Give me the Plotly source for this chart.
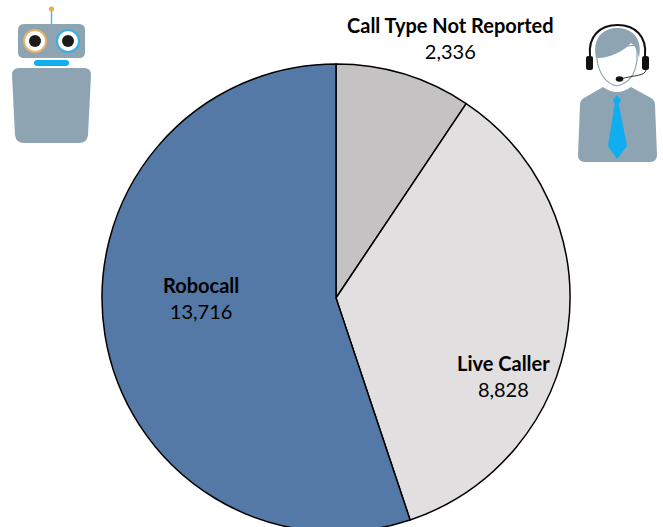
import plotly.graph_objects as go

labels = ["Call Type Not Reported", "Live Caller", "Robocall"]
values = [2336, 8828, 13716]
colors = ["#C4C2C2", "#E1DFE0", "#5579A6"]
label_px = [(450.5, 38.5), (503, 375.5), (201, 298)]

W, H = 663, 596
CX, CY, R = 336, 298, 234
FONT = "Lato, Carlito, Calibri, sans-serif"
STEEL = "#8EA4B3"
BLUE = "#10AEEF"
ORANGE = "#EFA94A"


def X(x):
    return x / W


def Y(y):
    return 1 - y / H


def path(cmds):
    out = []
    for c in cmds:
        if isinstance(c, str):
            out.append(c)
        else:
            op, *pts = c
            out.append(op + " " + " ".join(f"{X(p[0]):.5f},{Y(p[1]):.5f}" for p in pts))
    return " ".join(out)


def pshape(cmds, fill=None, line=None, lw=0):
    d = dict(type="path", xref="paper", yref="paper", layer="above", path=path(cmds))
    if fill:
        d["fillcolor"] = fill
    d["line"] = dict(color=line or "rgba(0,0,0,0)", width=lw)
    return d


def rrect(x0, y0, x1, y1, r):
    return [("M", (x0 + r, y0)), ("L", (x1 - r, y0)), ("Q", (x1, y0), (x1, y0 + r)),
            ("L", (x1, y1 - r)), ("Q", (x1, y1), (x1 - r, y1)), ("L", (x0 + r, y1)),
            ("Q", (x0, y1), (x0, y1 - r)), ("L", (x0, y0 + r)), ("Q", (x0, y0), (x0 + r, y0)), "Z"]


def circle(cx, cy, rx, fill, line=None, lw=0, ry=None):
    return dict(type="circle", xref="paper", yref="paper", layer="above",
                x0=X(cx - rx), x1=X(cx + rx), y0=Y(cy + (ry or rx)), y1=Y(cy - (ry or rx)),
                fillcolor=fill, line=dict(color=line or "rgba(0,0,0,0)", width=lw))


shapes = [
    # robot
    pshape([("M", (51.5, 10)), ("L", (51.5, 25))], line="#5FB4DC", lw=1.5),
    circle(51.5, 9, 2.6, ORANGE),
    pshape(rrect(18, 24, 85, 58, 6), fill=STEEL),
    circle(35, 41, 11, "#FFFFFF", "#E9B36A", 2),
    circle(68, 41, 11, "#FFFFFF", "#3AAEE3", 2),
    circle(35, 41, 6, "#1E1A1A"),
    circle(68, 41, 6, "#1E1A1A"),
    pshape(rrect(34, 60, 69, 66, 3), fill=BLUE),
    pshape([("M", (19, 68)), ("L", (84, 68)), ("Q", (91, 68), (91, 75)), ("L", (88, 135)),
            ("Q", (87, 143), (79, 143)), ("L", (24, 143)), ("Q", (16, 143), (15, 135)),
            ("L", (12, 75)), ("Q", (12, 68), (19, 68)), "Z"], fill=STEEL),
    # agent
    pshape([("M", (603, 87)), ("Q", (617, 97), (631, 87)), ("L", (651, 98)), ("Q", (655, 100), (655, 105)),
            ("L", (657, 155)), ("Q", (657, 162), (650, 162)), ("L", (585, 162)), ("Q", (578, 162), (578, 155)),
            ("L", (580, 105)), ("Q", (580, 100), (584, 98)), "Z"], fill=STEEL),
    pshape([("M", (597, 60)), ("C", (600, 78), (608, 84), (617, 86)), ("C", (626, 84), (635, 78), (637, 60)),
            ("L", (637, 45)), ("L", (597, 50)), "Z"], fill="#FFFFFF", line=STEEL, lw=1.2),
    pshape([("M", (596, 58)), ("C", (592, 38), (603, 28), (617, 28)), ("C", (632, 28), (643, 38), (639, 58)),
            ("C", (637, 50), (635, 46), (631, 43)), ("C", (623, 52), (610, 57), (600, 58)), "Z"], fill=STEEL),
    pshape([("M", (590, 56)), ("C", (588, 36), (600, 25), (617.5, 25)), ("C", (635, 25), (647, 36), (645, 56))],
           line="#111111", lw=2),
    pshape(rrect(586, 56, 593, 70, 2.5), fill="#111111"),
    pshape(rrect(642, 56, 649, 70, 2.5), fill="#111111"),
    pshape([("M", (646, 70)), ("C", (645, 76), (635, 75), (620, 79))], line="#333333", lw=1),
    circle(619.5, 79, 3.8, "#111111", ry=2.8),
    pshape([("M", (617, 95)), ("L", (621, 100)), ("L", (618.5, 105)), ("L", (615, 105)), ("L", (613, 100)), "Z"], fill=BLUE),
    pshape([("M", (614.5, 105)), ("L", (619, 105)), ("L", (627, 146)), ("L", (617, 159)), ("L", (608, 146)), "Z"], fill=BLUE),
]

annotations = [
    dict(text=f"<b>{n}</b><br>{v:,}", x=X(p[0]), y=Y(p[1]), xref="paper", yref="paper",
         showarrow=False, xanchor="center", yanchor="middle", align="center",
         font=dict(family=FONT, size=20, color="#000000"))
    for n, v, p in zip(labels, values, label_px)
]

fig = go.Figure(go.Pie(
    labels=labels, values=values, sort=False, direction="clockwise", rotation=0,
    marker=dict(colors=colors, line=dict(color="#000000", width=1.5)),
    textinfo="none", hoverinfo="label+value", showlegend=False,
    domain=dict(x=[X(CX - R), X(CX + R)], y=[Y(CY + R), Y(CY - R)]),
))
fig.update_layout(width=W, height=H, margin=dict(l=0, r=0, t=0, b=0), paper_bgcolor="#FFFFFF",
                  shapes=shapes, annotations=annotations, showlegend=False)
fig.write_html("out.html", config=dict(displayModeBar=False),
               post_script="document.documentElement.style.overflow='hidden';document.body.style.overflow='hidden';document.body.style.margin='0';")
